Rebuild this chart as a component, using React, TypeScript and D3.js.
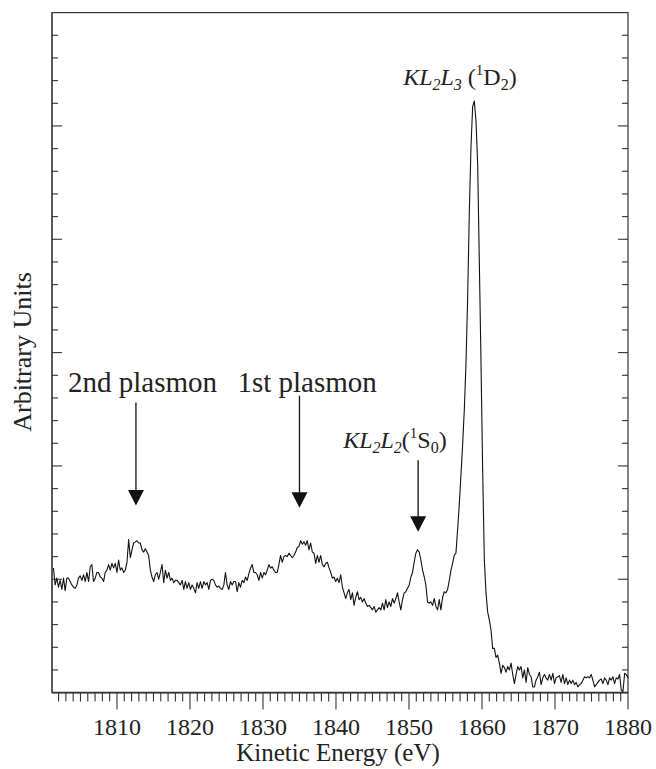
import React from 'react';
import * as d3 from 'd3';

// KL2L3 Auger spectrum, energies in eV, intensity in arbitrary units
const energy = [
  1801.30, 1801.53, 1801.76, 1801.99, 1802.22, 1802.45,
  1802.68, 1802.90, 1803.13, 1803.36, 1803.59, 1803.82, 1804.05, 1804.28,
  1804.51, 1804.73, 1804.96, 1805.19, 1805.42, 1805.65, 1805.88, 1806.11,
  1806.34, 1806.56, 1806.79, 1807.02, 1807.25, 1807.48, 1807.71, 1807.94,
  1808.17, 1808.39, 1808.62, 1808.85, 1809.08, 1809.31, 1809.54, 1809.77,
  1810.00, 1810.22, 1810.45, 1810.68, 1810.91, 1811.14, 1811.37, 1811.60,
  1811.83, 1812.05, 1812.28, 1812.51, 1812.74, 1812.97, 1813.20, 1813.43,
  1813.66, 1813.88, 1814.11, 1814.34, 1814.57, 1814.80, 1815.03, 1815.26,
  1815.49, 1815.71, 1815.94, 1816.17, 1816.40, 1816.63, 1816.86, 1817.09,
  1817.32, 1817.54, 1817.77, 1818.00, 1818.23, 1818.46, 1818.69, 1818.92,
  1819.15, 1819.37, 1819.60, 1819.83, 1820.06, 1820.29, 1820.52, 1820.75,
  1820.98, 1821.20, 1821.43, 1821.66, 1821.89, 1822.12, 1822.35, 1822.58,
  1822.81, 1823.03, 1823.26, 1823.49, 1823.72, 1823.95, 1824.18, 1824.41,
  1824.64, 1824.86, 1825.09, 1825.32, 1825.55, 1825.78, 1826.01, 1826.24,
  1826.47, 1826.69, 1826.92, 1827.15, 1827.38, 1827.61, 1827.84, 1828.07,
  1828.30, 1828.52, 1828.75, 1828.98, 1829.21, 1829.44, 1829.67, 1829.90,
  1830.13, 1830.35, 1830.58, 1830.81, 1831.04, 1831.27, 1831.50, 1831.73,
  1831.96, 1832.18, 1832.41, 1832.64, 1832.87, 1833.10, 1833.33, 1833.56,
  1833.79, 1834.01, 1834.24, 1834.47, 1834.70, 1834.93, 1835.16, 1835.39,
  1835.62, 1835.84, 1836.07, 1836.30, 1836.53, 1836.76, 1836.99, 1837.22,
  1837.45, 1837.67, 1837.90, 1838.13, 1838.36, 1838.59, 1838.82, 1839.05,
  1839.28, 1839.50, 1839.73, 1839.96, 1840.19, 1840.42, 1840.65, 1840.88,
  1841.11, 1841.33, 1841.56, 1841.79, 1842.02, 1842.25, 1842.48, 1842.71,
  1842.94, 1843.16, 1843.39, 1843.62, 1843.85, 1844.08, 1844.31, 1844.54,
  1844.77, 1844.99, 1845.22, 1845.45, 1845.68, 1845.91, 1846.14, 1846.37,
  1846.60, 1846.82, 1847.05, 1847.28, 1847.51, 1847.74, 1847.97, 1848.20,
  1848.43, 1848.65, 1848.88, 1849.11, 1849.34, 1849.57, 1849.80, 1850.03,
  1850.26, 1850.48, 1850.71, 1850.94, 1851.17, 1851.40, 1851.63, 1851.86,
  1852.09, 1852.31, 1852.54, 1852.77, 1853.00, 1853.23, 1853.46, 1853.69,
  1853.92, 1854.14, 1854.37, 1854.60, 1854.83, 1855.06, 1855.29, 1855.52,
  1855.75, 1855.97, 1856.20, 1856.43, 1856.66, 1856.89, 1857.12, 1857.35,
  1857.58, 1857.80, 1858.03, 1858.26, 1858.49, 1858.72, 1858.95, 1859.18,
  1859.41, 1859.63, 1859.86, 1860.09, 1860.32, 1860.55, 1860.78, 1861.01,
  1861.24, 1861.46, 1861.69, 1861.92, 1862.15, 1862.38, 1862.61, 1862.84,
  1863.07, 1863.29, 1863.52, 1863.75, 1863.98, 1864.21, 1864.44, 1864.67,
  1864.90, 1865.12, 1865.35, 1865.58, 1865.81, 1866.04, 1866.27, 1866.50,
  1866.73, 1866.95, 1867.18, 1867.41, 1867.64, 1867.87, 1868.10, 1868.33,
  1868.56, 1868.78, 1869.01, 1869.24, 1869.47, 1869.70, 1869.93, 1870.16,
  1870.39, 1870.61, 1870.84, 1871.07, 1871.30, 1871.53, 1871.76, 1871.99,
  1872.22, 1872.44, 1872.67, 1872.90, 1873.13, 1873.36, 1873.59, 1873.82,
  1874.05, 1874.27, 1874.50, 1874.73, 1874.96, 1875.19, 1875.42, 1875.65,
  1875.88, 1876.10, 1876.33, 1876.56, 1876.79, 1877.02, 1877.25, 1877.48,
  1877.71, 1877.93, 1878.16, 1878.39, 1878.62, 1878.85, 1879.08, 1879.31,
  1879.54, 1879.76, 1879.99,
];

const counts = [
  110, 95, 101, 93, 99, 91,
  101, 90, 101, 101, 98, 95, 93, 92,
  95, 101, 103, 99, 104, 98, 106, 98,
  111, 113, 98, 101, 106, 106, 102, 101,
  98, 106, 108, 113, 108, 114, 110, 114,
  106, 117, 108, 110, 106, 108, 115, 135,
  119, 126, 132, 133, 134, 132, 132, 126,
  124, 127, 124, 121, 108, 102, 98, 104,
  106, 100, 106, 113, 97, 108, 101, 106,
  99, 101, 97, 99, 99, 97, 95, 99,
  91, 98, 92, 97, 91, 95, 92, 88,
  97, 92, 98, 92, 98, 95, 97, 91,
  99, 100, 99, 95, 93, 94, 92, 91,
  95, 106, 95, 91, 98, 95, 98, 98,
  89, 97, 93, 99, 97, 102, 99, 105,
  110, 113, 106, 106, 104, 99, 106, 101,
  106, 104, 108, 113, 110, 111, 108, 106,
  106, 113, 121, 115, 120, 121, 120, 123,
  121, 119, 121, 124, 128, 129, 134, 131,
  133, 130, 134, 126, 132, 124, 123, 114,
  121, 115, 121, 113, 111, 114, 115, 110,
  106, 101, 102, 98, 101, 97, 104, 93,
  88, 83, 88, 91, 82, 88, 77, 84,
  89, 82, 84, 80, 83, 79, 76, 77,
  75, 73, 76, 71, 73, 75, 73, 79,
  73, 82, 75, 80, 76, 83, 79, 83,
  88, 80, 73, 82, 88, 89, 92, 95,
  102, 106, 115, 123, 126, 124, 117, 108,
  102, 95, 80, 79, 80, 77, 83, 76,
  73, 82, 73, 84, 89, 88, 91, 99,
  108, 114, 121, 123, 144, 166, 192, 219,
  250, 289, 347, 422, 481, 517, 522, 504,
  466, 382, 293, 197, 117, 88, 71, 64,
  55, 39, 39, 31, 33, 26, 17, 24,
  22, 18, 23, 20, 26, 16, 8, 16,
  23, 20, 23, 13, 20, 9, 22, 16,
  14, 5, 5, 11, 14, 18, 7, 13,
  16, 13, 11, 16, 11, 17, 8, 13,
  14, 15, 9, 16, 8, 13, 7, 11,
  8, 11, 7, 9, 5, 7, 8, 11,
  14, 13, 14, 13, 16, 11, 5, 7,
  9, 11, 12, 8, 13, 11, 7, 13,
  11, 14, 8, 13, 12, 16, 2, 1,
  17, 16, 13,
];

const xTickLabels = [1810, 1820, 1830, 1840, 1850, 1860, 1870, 1880];

// plasmon annotations
const plasmonLabels = ['2nd plasmon', '1st plasmon'];
const plasmonLabelE = [1803.3, 1826.5];
const plasmonLabelY = 265;

// arrows: energy, shaft top, tip (arbitrary units)
const arrowE = [1812.6, 1835.0, 1851.25];
const arrowTop = [256, 262, 205];
const arrowTip = [165, 163, 142];

const W = 656;
const H = 769;
const FONT = "'Liberation Serif', 'Times New Roman', serif";

export default function App() {
  const x = d3.scaleLinear().domain([1801.1, 1880]).range([52, 628]);
  const y = d3.scaleLinear().domain([0, 600]).range([692.6, 12.6]);

  const line = d3
    .line<number>()
    .x((_, i) => x(energy[i]))
    .y((d) => y(d));

  const xMinor = d3.range(1802, 1881, 1);
  const yMinor = d3.range(20, 600, 20);

  const [x0, x1] = x.range();
  const [y0, y1] = y.range();

  return (
    <svg
      width={W}
      height={H}
      style={{ position: 'absolute', left: 0, top: 0, background: '#fff' }}
      fontFamily={FONT}
    >
      <rect x={0} y={0} width={W} height={H} fill="#fff" />

      {/* frame */}
      <rect x={x0} y={y1} width={x1 - x0} height={y0 - y1} fill="none" stroke="#333" strokeWidth={1.2} />
      <line x1={x0} x2={x0} y1={y1} y2={y0} stroke="#555" strokeWidth={1.8} />
      <line x1={x0} x2={x1} y1={y0} y2={y0} stroke="#333" strokeWidth={1.6} />

      {/* y ticks, inward on both sides */}
      {yMinor.map((v) => {
        const major = v % 100 === 0;
        const len = major ? 10 : 6;
        return (
          <g key={'y' + v} stroke="#333" strokeWidth={1.1}>
            <line x1={x0} x2={x0 + len} y1={y(v)} y2={y(v)} />
            <line x1={x1} x2={x1 - len} y1={y(v)} y2={y(v)} />
          </g>
        );
      })}

      {/* x ticks, outward */}
      {xMinor.map((e) => {
        const major = e % 10 === 0;
        return (
          <line
            key={'x' + e}
            x1={x(e)}
            x2={x(e)}
            y1={y0}
            y2={y0 + (major ? 17 : 9)}
            stroke="#333"
            strokeWidth={1.1}
          />
        );
      })}
      {xTickLabels.map((e) => (
        <text key={'xl' + e} x={x(e)} y={735} textAnchor="middle" fontSize={24} fill="#222">
          {e}
        </text>
      ))}

      <text x={338} y={761} textAnchor="middle" fontSize={25} fill="#222">
        Kinetic Energy (eV)
      </text>
      <text transform="translate(31,352) rotate(-90)" textAnchor="middle" fontSize={26} fill="#222">
        Arbitrary Units
      </text>

      {/* spectrum */}
      <path d={line(counts) || ''} fill="none" stroke="#111" strokeWidth={1.1} strokeLinejoin="round" />

      {/* arrows */}
      {arrowE.map((e, i) => {
        const ax = x(e);
        const tip = y(arrowTip[i]);
        return (
          <g key={'a' + i}>
            <line x1={ax} x2={ax} y1={y(arrowTop[i])} y2={tip - 12} stroke="#111" strokeWidth={1.3} />
            <path d={`M${ax - 8},${tip - 15.5} L${ax + 8},${tip - 15.5} L${ax},${tip} Z`} fill="#111" />
          </g>
        );
      })}

      {plasmonLabels.map((t, i) => (
        <text key={t} x={x(plasmonLabelE[i])} y={y(plasmonLabelY)} fontSize={29} fill="#222">
          {t}
        </text>
      ))}

      <text x={x(1840.98)} y={y(216)} fontSize={24} fill="#222">
        <tspan fontStyle="italic">KL</tspan>
        <tspan fontStyle="italic" fontSize={16} dy={5}>2</tspan>
        <tspan fontStyle="italic" dy={-5}>L</tspan>
        <tspan fontStyle="italic" fontSize={16} dy={5}>2</tspan>
        <tspan dy={-5}>(</tspan>
        <tspan fontSize={15} dy={-10}>1</tspan>
        <tspan dy={10}>S</tspan>
        <tspan fontSize={16} dy={5}>0</tspan>
        <tspan dy={-5}>)</tspan>
      </text>

      <text x={x(1849.2)} y={y(536)} fontSize={24} fill="#222">
        <tspan fontStyle="italic">KL</tspan>
        <tspan fontStyle="italic" fontSize={16} dy={5}>2</tspan>
        <tspan fontStyle="italic" dy={-5}>L</tspan>
        <tspan fontStyle="italic" fontSize={16} dy={5}>3</tspan>
        <tspan dy={-5}>{' ('}</tspan>
        <tspan fontSize={15} dy={-10}>1</tspan>
        <tspan dy={10}>D</tspan>
        <tspan fontSize={16} dy={5}>2</tspan>
        <tspan dy={-5}>)</tspan>
      </text>
    </svg>
  );
}
